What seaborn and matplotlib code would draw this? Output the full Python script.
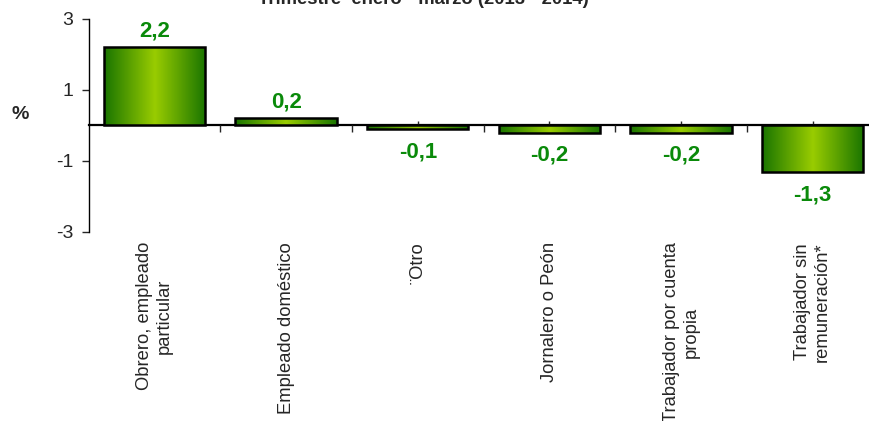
import numpy as np
import pandas as pd
import seaborn as sns
import matplotlib.pyplot as plt
from matplotlib.colors import LinearSegmentedColormap

sns.set_style("white")
plt.rcParams['font.family'] = ['Liberation Sans', 'DejaVu Sans']

categorias = ["Obrero, empleado\nparticular", "Empleado doméstico", "¨Otro",
              "Jornalero o Peón", "Trabajador por cuenta\npropia",
              "Trabajador sin\nremuneración*"]
valores = [2.2, 0.2, -0.1, -0.2, -0.2, -1.3]
etiquetas = ["2,2", "0,2", "-0,1", "-0,2", "-0,2", "-1,3"]
yticks = [-3, -1, 1, 3]

df = pd.DataFrame({"cat": categorias, "val": valores})

fig = plt.figure(figsize=(8.69, 4.21), dpi=100)
ax = fig.add_axes([0.102, 0.449, 0.909, 0.506])

sns.barplot(data=df, x="cat", y="val", color="#99CC00", width=0.77,
            edgecolor="black", linewidth=1.8, ax=ax)

# degradado horizontal verde oscuro - verde claro - verde oscuro
cmap = LinearSegmentedColormap.from_list("verde", ["#1A7500", "#99CC00", "#1A7500"])
grad = np.linspace(0, 1, 200).reshape(1, -1)
for p in ax.patches:
    x, y, w, h = p.get_x(), p.get_y(), p.get_width(), p.get_height()
    im = ax.imshow(grad, cmap=cmap, aspect="auto", zorder=1,
                   extent=[x, x + w, y, y + h])
    im.set_clip_path(p)
    p.set_facecolor("none")
    p.set_zorder(2)

for i, (v, t) in enumerate(zip(valores, etiquetas)):
    off = 11.5 if v > 0 else -16.5
    ax.annotate(t, (i, v), xytext=(0, off), textcoords="offset points",
                ha="center", va="center", fontsize=16, fontweight="bold",
                color="#0A8A0A")

ax.set_xlim(-0.5, 5.5)
ax.set_ylim(-3, 3)
ax.set_yticks(yticks)
ax.set_yticklabels([str(t) for t in yticks], fontsize=14)
ax.tick_params(axis="y", direction="out", length=5, width=1, left=True, pad=6)

ax.spines["top"].set_visible(False)
ax.spines["right"].set_visible(False)
ax.spines["left"].set_linewidth(1)
ax.spines["left"].set_color("black")
ax.spines["bottom"].set_position(("data", 0))
ax.spines["bottom"].set_linewidth(1.6)
ax.spines["bottom"].set_color("black")
ax.spines["bottom"].set_zorder(0.5)

ax.set_xticks(np.arange(len(categorias)))
ax.set_xticklabels(categorias, rotation=90, fontsize=13.2, va="top", ha="center",
                   multialignment="center")
ax.set_xticks(np.arange(len(categorias) - 1) + 0.5, minor=True)
ax.tick_params(axis="x", which="major", direction="in", length=3, width=1,
               bottom=True, pad=84)
ax.tick_params(axis="x", which="minor", direction="out", length=5, width=1,
               bottom=True)
ax.set_xlabel("")
ax.set_ylabel("")

fig.text(0.023, 0.727, "%", fontsize=14, fontweight="bold", ha="center", va="center")
fig.text(0.487, 0.99, "Trimestre  enero - marzo (2013 - 2014)", fontsize=13.3,
         fontweight="bold", ha="center", va="baseline")

fig.savefig("out.png", dpi=100)
